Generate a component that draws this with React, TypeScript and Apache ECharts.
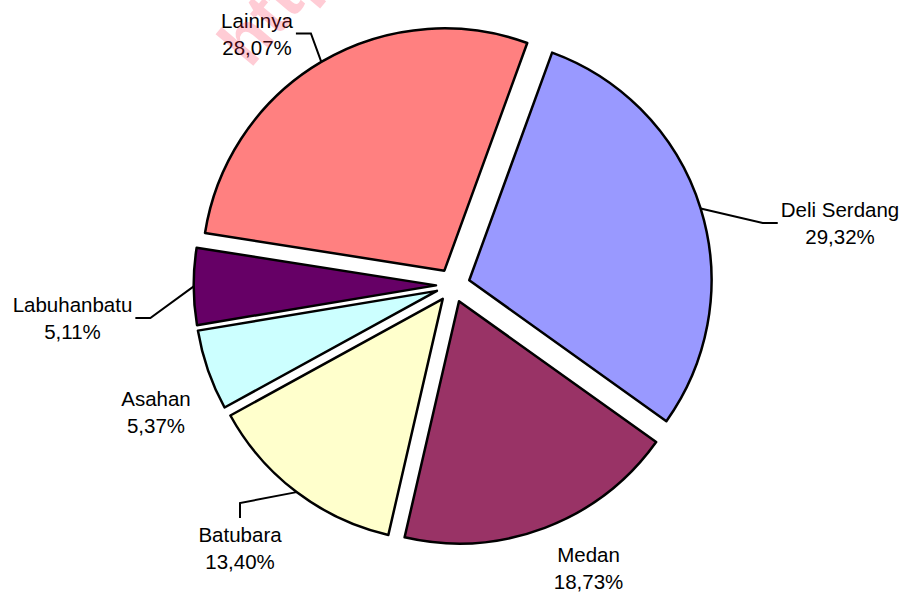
import React, { useEffect, useRef } from "react";
import * as echarts from "echarts";

// ---- data ----
const categories = ["Deli Serdang", "Medan", "Batubara", "Asahan", "Labuhanbatu", "Lainnya"];
const shares = [29.32, 18.73, 13.4, 5.37, 5.11, 28.07];

// ---- styles / layout (kept apart from the data) ----
const sliceColors = ["#9999FF", "#993366", "#FFFFCC", "#CCFFFF", "#660066", "#FF8080"];
const labelCenters = [
  [840, 223],
  [588.5, 568],
  [240, 548],
  [156, 411.5],
  [72.5, 318],
  [257, 33.5],
];
const leaderSide = ["left", "none", "top", "none", "right", "right"];

const CENTER = [453, 285.3];
const RADIUS = 242.3;
const EXPLODE = 17;
const START = 70;
const FONT = "'Liberation Sans', Arial, sans-serif";

const fmt = (v: number) => v.toFixed(2).replace(".", ",") + "%";

export default function App() {
  const ref = useRef<HTMLDivElement>(null);
  useEffect(() => {
    if (!ref.current) return;
    const chart = echarts.init(ref.current, undefined, { renderer: "svg" });
    chart.setOption({
      animation: false,
      backgroundColor: "#ffffff",
      graphic: [
        {
          type: "text",
          x: 258,
          y: 76,
          rotation: (50 * Math.PI) / 180,
          z: 100,
          style: {
            text: "http://",
            fontSize: 68,
            fontWeight: "bold",
            fontFamily: FONT,
            fill: "rgba(255, 40, 80, 0.24)",
            align: "left",
            verticalAlign: "bottom",
          },
        },
      ],
      series: [
        {
          // exploded slices
          type: "pie",
          center: CENTER,
          radius: RADIUS,
          startAngle: START,
          selectedMode: "multiple",
          selectedOffset: EXPLODE,
          avoidLabelOverlap: false,
          emphasis: { disabled: true },
          itemStyle: { borderColor: "#000000", borderWidth: 2.5 },
          label: { show: false },
          labelLine: { show: false },
          data: categories.map((name, i) => ({
            name,
            value: shares[i],
            selected: true,
            itemStyle: { color: sliceColors[i] },
          })),
        },
        {
          // labels and leader lines (invisible slices reaching the exploded rim)
          type: "pie",
          center: CENTER,
          radius: RADIUS + EXPLODE,
          startAngle: START,
          silent: true,
          selectedMode: false,
          avoidLabelOverlap: false,
          emphasis: { disabled: true },
          z: 3,
          itemStyle: { color: "rgba(0,0,0,0)", borderWidth: 0 },
          label: {
            show: true,
            position: "outside",
            color: "#000000",
            fontSize: 20.5,
            lineHeight: 27,
            fontFamily: FONT,
            formatter: (p: any) => `${p.name}\n${fmt(p.value)}`,
          },
          labelLine: {
            show: true,
            length: 10,
            length2: 10,
            lineStyle: { color: "#000000", width: 2 },
          },
          labelLayout: (p: any) => {
            const i = p.dataIndex;
            const [x, y] = labelCenters[i];
            const w = p.labelRect.width;
            const h = p.labelRect.height;
            const res: any = { x, y, align: "center", verticalAlign: "middle" };
            const pts = p.labelLinePoints;
            const side = leaderSide[i];
            if (pts && side !== "none") {
              const a = pts[0];
              const gap = 3;
              const seg = 15;
              let end: number[] = [x, y];
              let knee: number[] = [x, y];
              if (side === "left") {
                end = [x - w / 2 - gap, y];
                knee = [end[0] - seg, y];
              } else if (side === "right") {
                end = [x + w / 2 + gap, y];
                knee = [end[0] + seg, y];
              } else {
                end = [x, y - h / 2 - gap];
                knee = [x, end[1] - seg];
              }
              res.labelLinePoints = [a, knee, end];
            }
            return res;
          },
          data: categories.map((name, i) => ({
            name,
            value: shares[i],
            labelLine: { show: leaderSide[i] !== "none" },
          })),
        },
      ],
    });
    return () => chart.dispose();
  }, []);
  return (
    <div
      ref={ref}
      style={{ position: "fixed", left: 0, top: 0, width: 907, height: 593 }}
    />
  );
}
